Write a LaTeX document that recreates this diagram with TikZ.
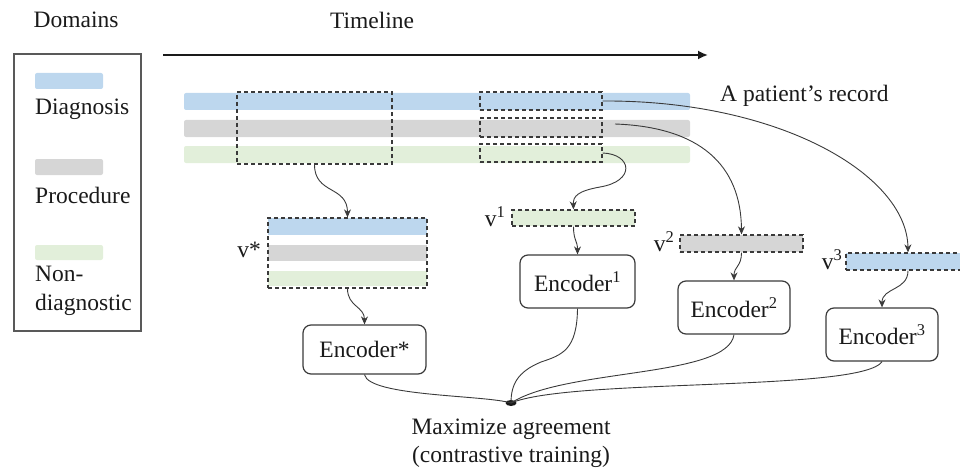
\documentclass[tikz,border=0pt]{standalone}
\usepackage{fontspec}
\setmainfont{Liberation Serif}
\usetikzlibrary{arrows.meta,shapes.geometric}
\definecolor{cblue}{HTML}{BDD7EE}
\definecolor{cgray}{HTML}{D6D6D6}
\definecolor{cgreen}{HTML}{E2EFDA}
\definecolor{ink}{HTML}{1A1A1A}
\definecolor{edge}{HTML}{3A3A3A}
\tikzset{
  txt/.style={font=\fontsize{23.5}{27}\selectfont, text=ink, inner sep=0pt},
  bar/.style={rectangle, draw=none, inner sep=0pt, rounded corners=2pt},
  dbox/.style={rectangle, draw=edge, dash pattern=on 4pt off 3pt, line width=1.3pt, inner sep=0pt},
  enc/.style={rectangle, draw=edge, line width=1.2pt, rounded corners=8pt, inner sep=0pt, font=\fontsize{23.5}{27}\selectfont, text=ink},
  conn/.style={draw=edge, line width=0.9pt},
  arr/.style={conn, -{Stealth[length=8pt, width=7pt]}},
}
\begin{document}
\begin{tikzpicture}[x=1pt, y=-1pt]
\useasboundingbox (0,0) rectangle (960,468);
\begin{scope}
\clip (0,0) rectangle (960,468);
% headers
\node[txt] (domains) at (76,20) {Domains};
\node[txt] (timeline) at (372,20) {Timeline};
\coordinate (tl0) at (163,55);
\coordinate (tl1) at (708,55);
\draw[line width=1.8pt, draw=ink, -{Latex[length=10pt, width=9pt]}] (tl0) -- (tl1);
% legend
\node[rectangle, draw=black!65, line width=1.4pt, minimum width=127pt, minimum height=277pt, inner sep=0pt] (legend) at (77.5,192.5) {};
\node[bar, fill=cblue, minimum width=68pt, minimum height=16pt] (lgblue) at (69,81) {};
\node[txt, anchor=west] (lgdiag) at (35,109) {Diagnosis};
\node[bar, fill=cgray, minimum width=68pt, minimum height=16pt] (lggray) at (69,167) {};
\node[txt, anchor=west] (lgproc) at (35,195) {Procedure};
\node[bar, fill=cgreen, minimum width=68pt, minimum height=15pt] (lggreen) at (69,252.5) {};
\node[txt, anchor=west] (lgnon) at (35,274) {Non-};
\node[txt, anchor=west] (lgdiagn) at (35,305) {diagnostic};
% record bars
\node[bar, fill=cblue, minimum width=506pt, minimum height=17pt] (rblue) at (437,101.5) {};
\node[bar, fill=cgray, minimum width=506pt, minimum height=17pt] (rgray) at (437,128.5) {};
\node[bar, fill=cgreen, minimum width=506pt, minimum height=17pt] (rgreen) at (437,154.5) {};
\node[txt, anchor=west] (record) at (720,96) {A patient’s record};
% dashed selections
\node[dbox, minimum width=155pt, minimum height=72pt] (big) at (314.5,128) {};
\node[dbox, minimum width=122pt, minimum height=18pt] (sblue) at (541,101) {};
\node[dbox, minimum width=122pt, minimum height=19pt] (sgray) at (541,127.5) {};
\node[dbox, minimum width=122pt, minimum height=18pt] (sgreen) at (541,153) {};
% v* box
\node[bar, fill=cblue, rounded corners=0pt, minimum width=159pt, minimum height=17pt] (vsb) at (347.5,226.5) {};
\node[bar, fill=cgray, rounded corners=0pt, minimum width=159pt, minimum height=16pt] (vsg) at (347.5,253) {};
\node[bar, fill=cgreen, rounded corners=0pt, minimum width=159pt, minimum height=15pt] (vsn) at (347.5,278.5) {};
\node[dbox, minimum width=159pt, minimum height=70pt] (vstar) at (347.5,253) {};
\node[txt] (lvstar) at (249,250) {v*};
% single views
\node[dbox, fill=cgreen, minimum width=123pt, minimum height=16pt] (v1) at (573.5,218) {};
\node[txt] (lv1) at (495,217) {v\textsuperscript{1}};
\node[dbox, fill=cgray, minimum width=123pt, minimum height=17pt] (v2) at (741.5,243.5) {};
\node[txt] (lv2) at (664,242) {v\textsuperscript{2}};
\node[dbox, fill=cblue, minimum width=124pt, minimum height=17pt] (v3) at (908,261.5) {};
\node[txt] (lv3) at (832,260) {v\textsuperscript{3}};
% encoders
\node[enc, minimum width=123pt, minimum height=49pt] (encs) at (364.5,349.5) {Encoder*};
\node[enc, minimum width=115pt, minimum height=53pt] (enc1) at (577.5,281.5) {Encoder\textsuperscript{1}};
\node[enc, minimum width=112pt, minimum height=53pt] (enc2) at (734,307.5) {Encoder\textsuperscript{2}};
\node[enc, minimum width=112pt, minimum height=53pt] (enc3) at (882,334.5) {Encoder\textsuperscript{3}};
% agreement point
\node[ellipse, fill=ink, minimum width=11pt, minimum height=6pt, inner sep=0pt] (dot) at (511,403) {};
\node[txt, align=center] (maxag) at (511,443) {Maximize agreement\\[1pt](contrastive training)};
% arrows to views
\draw[arr] (big.south) .. controls +(0,30) and +(0,-32) .. (vstar.north);
\draw[arr] (vstar.south) .. controls +(0,18) and +(0,-18) .. (encs.north);
\draw[arr] (sgreen.east) .. controls (632,154) and (636,181) .. (600,187)
   .. controls (578,191) and (573,196) .. (v1.north);
\draw[arr] (615,124) .. controls (700,127) and (741,165) .. (v2.north);
\draw[arr] (sblue.east) .. controls (780,100) and (907,175) .. (v3.north);
\draw[arr] (v1.south) .. controls +(0,14) and +(0,-14) .. (enc1.north);
\draw[arr] (v2.south) .. controls +(0,14) and +(0,-14) .. (enc2.north);
\draw[arr] (v3.south) .. controls +(0,20) and +(0,-20) .. (enc3.north);
% to agreement
\draw[conn] (encs.south) .. controls +(4,22) and +(-25,-8) .. (dot.center);
\draw[conn] (enc1.south) .. controls (577,350) and (562,355) .. (541,362)
   .. controls (517,372) and (511,385) .. (dot.center);
\draw[conn] (enc2.south) .. controls (728,378) and (565,368) .. (dot.center);
\draw[conn] (enc3.south) .. controls (862,392) and (570,378) .. (dot.center);
\end{scope}
\end{tikzpicture}
\end{document}
